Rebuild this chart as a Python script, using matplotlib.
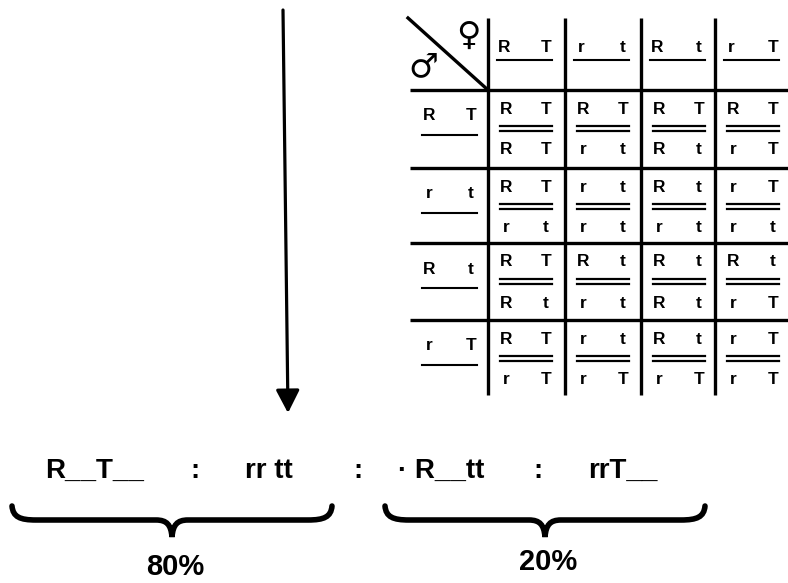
import matplotlib
matplotlib.use("Agg")
import matplotlib.pyplot as plt
from matplotlib.path import Path
from matplotlib.patches import PathPatch

# ── data ────────────────────────────────────────────────────────────────────
female_gametes = [("R", "T"), ("r", "t"), ("R", "t"), ("r", "T")]
male_gametes   = [("R", "T"), ("r", "t"), ("R", "t"), ("r", "T")]

# genotype in each cell: upper chromosome / lower chromosome (row = male)
cell_top = [["RT", "RT", "RT", "RT"],
            ["RT", "rt", "Rt", "rT"],
            ["RT", "Rt", "Rt", "Rt"],
            ["RT", "rt", "Rt", "rT"]]
cell_bottom = [["RT", "rt", "Rt", "rT"],
               ["rt", "rt", "rt", "rt"],
               ["Rt", "rt", "Rt", "rT"],
               ["rT", "rT", "rT", "rT"]]

phenotypes   = ["R__T__", ":", "rr tt", ":", "· R__tt", ":", "rrT__"]
group_labels = ["80%", "20%"]

# ── layout (pixels) ─────────────────────────────────────────────────────────
W, H = 788, 583
col_edges = [410, 488, 565, 641, 715, 790]
row_edges = [18, 90, 168, 243, 320, 395]
pheno_x   = [45, 195, 245, 358, 398, 538, 588]
pheno_ha  = ["left", "center", "left", "center", "left", "center", "left"]
braces    = [(12, 332), (385, 705)]
label_y   = [567, 562]

GRID_LW = 2.4
LETTER  = dict(fontsize=12.5, fontweight="bold", family="Liberation Sans",
               ha="center", va="center", color="black")

fig = plt.figure(figsize=(W / 100, H / 100), dpi=100)
ax = fig.add_axes([0, 0, 1, 1])
ax.set_xlim(0, W)
ax.set_ylim(H, 0)
ax.axis("off")

# ── arrow ───────────────────────────────────────────────────────────────────
ax.annotate("", xy=(288, 413), xytext=(283, 10),
            arrowprops=dict(arrowstyle="-|>,head_length=0.7,head_width=0.36",
                            mutation_scale=20, lw=2.3, color="black",
                            shrinkA=0, shrinkB=0))

# ── grid lines ──────────────────────────────────────────────────────────────
top, bottom = row_edges[0], row_edges[-1]
for x in col_edges[1:-1]:
    ax.plot([x, x], [top, bottom], color="black", lw=GRID_LW,
            solid_capstyle="butt")
for y in row_edges[1:-1]:
    ax.plot([col_edges[0], W], [y, y], color="black", lw=GRID_LW,
            solid_capstyle="butt")
ax.plot([408, col_edges[1]], [top, row_edges[1]], color="black", lw=GRID_LW)

ax.text(468, 35, "\u2640", fontsize=24, family="DejaVu Sans",
        ha="center", va="center")
ax.text(423, 67, "\u2642", fontsize=24, family="DejaVu Sans",
        ha="center", va="center")

# header: female gametes
for j, (a, b) in enumerate(female_gametes):
    x0 = col_edges[j + 1]
    ax.text(x0 + 16, 47, a, **LETTER)
    ax.text(x0 + 58, 47, b, **LETTER)
    ax.plot([x0 + 9, x0 + 64], [60, 60], color="black", lw=1.5)

# row labels: male gametes
for i, (a, b) in enumerate(male_gametes):
    y0 = row_edges[i + 1]
    ax.text(col_edges[0] + 19, y0 + 26, a, **LETTER)
    ax.text(col_edges[0] + 61, y0 + 26, b, **LETTER)
    ax.plot([col_edges[0] + 12, col_edges[0] + 67], [y0 + 45, y0 + 45],
            color="black", lw=1.5)

# cells
for i in range(4):
    y0 = row_edges[i + 1]
    for j in range(4):
        x0 = col_edges[j + 1]
        up, lo = cell_top[i][j], cell_bottom[i][j]
        ax.text(x0 + 18, y0 + 19, up[0], **LETTER)
        ax.text(x0 + 58, y0 + 19, up[1], **LETTER)
        for dy in (36, 41):
            ax.plot([x0 + 12, x0 + 64], [y0 + dy, y0 + dy],
                    color="black", lw=1.6)
        ax.text(x0 + 18, y0 + 60, lo[0], **LETTER)
        ax.text(x0 + 58, y0 + 60, lo[1], **LETTER)

# ── phenotype ratio ─────────────────────────────────────────────────────────
for s, x, ha in zip(phenotypes, pheno_x, pheno_ha):
    ax.text(x, 478, s, fontsize=20, fontweight="bold",
            family="Liberation Sans", ha=ha, va="baseline")


def brace(x0, x1, y_top=506, y_mid=520, y_tip=537):
    xm = (x0 + x1) / 2
    verts = [(x0, y_top),
             (x0 + 1, y_top + 11), (x0 + 8, y_mid), (x0 + 24, y_mid),
             (xm - 16, y_mid),
             (xm - 5, y_mid), (xm - 1, y_mid + 5), (xm, y_tip),
             (xm + 1, y_mid + 5), (xm + 5, y_mid), (xm + 16, y_mid),
             (x1 - 24, y_mid),
             (x1 - 8, y_mid), (x1 - 1, y_top + 11), (x1, y_top)]
    codes = ([Path.MOVETO] + [Path.CURVE4] * 3 + [Path.LINETO]
             + [Path.CURVE4] * 6 + [Path.LINETO] + [Path.CURVE4] * 3)
    ax.add_patch(PathPatch(Path(verts, codes), fill=False, lw=4,
                           edgecolor="black", capstyle="round"))
    return xm


for (x0, x1), lab, ly in zip(braces, group_labels, label_y):
    xm = brace(x0, x1)
    ax.text(xm + 3, ly, lab, fontsize=21, fontweight="bold",
            family="Liberation Sans", ha="center", va="center")

fig.savefig("out.png", dpi=100)
